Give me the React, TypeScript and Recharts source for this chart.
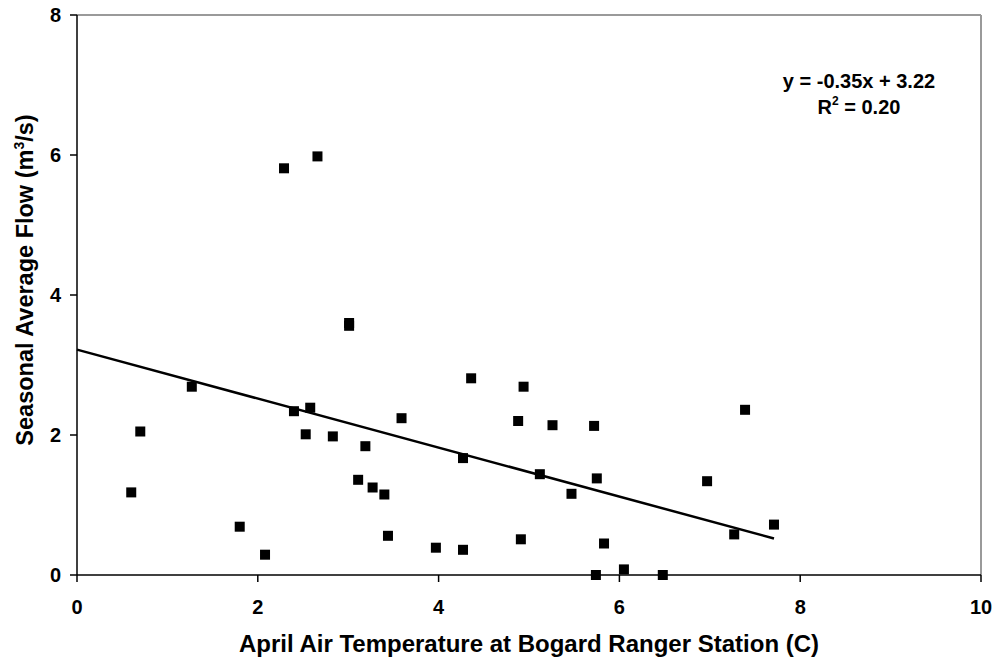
import React from "react";
import { ReferenceLine, Scatter, ScatterChart, XAxis, YAxis } from "recharts";

// April air temperature (C) and seasonal average flow (m3/s), one entry per year
const aprilTemp = [
  0.6, 0.7, 1.27, 1.8, 2.08, 2.29, 2.4, 2.53, 2.58, 2.66, 2.83, 3.01, 3.01, 3.11, 3.19, 3.27,
  3.4, 3.44, 3.59, 3.97, 4.27, 4.27, 4.36, 4.88, 4.91, 4.94, 5.12, 5.26, 5.47, 5.72, 5.74,
  5.75, 5.83, 6.05, 6.48, 6.97, 7.27, 7.39, 7.71,
];
const seasonalFlow = [
  1.18, 2.05, 2.69, 0.69, 0.29, 5.81, 2.34, 2.01, 2.39, 5.98, 1.98, 3.6, 3.56, 1.36, 1.84, 1.25,
  1.15, 0.56, 2.24, 0.39, 0.36, 1.67, 2.81, 2.2, 0.51, 2.69, 1.44, 2.14, 1.16, 2.13, 0.0, 1.38,
  0.45, 0.08, 0.0, 1.34, 0.58, 2.36, 0.72,
];
const xTicks = [0, 2, 4, 6, 8, 10];
const yTicks = [0, 2, 4, 6, 8];
const trendSlope = -0.35;
const trendIntercept = 3.22;
const rSquared = "0.20";

const points = aprilTemp.map((x, i) => ({ x, y: seasonalFlow[i] }));
const trendEnds = [0, Math.max(...aprilTemp)];
const trend = trendEnds.map((x) => ({ x, y: trendSlope * x + trendIntercept }));

const font = "'Liberation Sans', Arial, sans-serif";

const XTick = (props: any) => {
  const { x, y, payload } = props;
  return (
    <text x={x} y={y} dy="0.71em" textAnchor="middle" fontFamily={font} fontWeight="bold" fontSize={20} fill="#000">
      {payload.value}
    </text>
  );
};

const YTick = (props: any) => {
  const { x, y, payload } = props;
  return (
    <text x={x} y={y} dy="0.355em" textAnchor="end" fontFamily={font} fontWeight="bold" fontSize={20} fill="#000">
      {payload.value}
    </text>
  );
};

const Square = (props: any) => {
  const { cx, cy } = props;
  if (cx == null || cy == null) return null;
  return <rect x={cx - 5} y={cy - 5} width={10} height={10} fill="#000" />;
};

const NoDot = () => null;

const YTitle = () => (
  <text
    transform="translate(33, 280) rotate(-90)"
    textAnchor="middle"
    fontFamily={font}
    fontWeight="bold"
    fontSize={23.5}
    fill="#000"
  >
    Seasonal Average Flow (m
    <tspan fontSize={14} dy={-9}>
      3
    </tspan>
    <tspan dy={9}>/s)</tspan>
  </text>
);

export default function App() {
  return (
    <div style={{ position: "absolute", left: 0, top: 0, width: 995, height: 661, background: "#fff" }}>
      <ScatterChart width={995} height={661} margin={{ top: 15, right: 14, bottom: 0, left: 0 }}>
        <XAxis
          type="number"
          dataKey="x"
          domain={[0, 10]}
          ticks={xTicks}
          tick={XTick}
          tickSize={7}
          tickMargin={18}
          stroke="#000"
          strokeWidth={1.5}
          height={86}
          label={{
            value: "April Air Temperature at Bogard Ranger Station (C)",
            position: "insideBottom",
            offset: 9,
            style: { fontFamily: font, fontWeight: "bold", fontSize: 24, fill: "#000" },
          }}
        />
        <YAxis
          type="number"
          dataKey="y"
          domain={[0, 8]}
          ticks={yTicks}
          tick={YTick}
          tickSize={7}
          tickMargin={9}
          stroke="#000"
          strokeWidth={1.5}
          width={77}
        />
        <ReferenceLine y={8} stroke="#9a9a9a" strokeWidth={2} />
        <ReferenceLine x={10} stroke="#9a9a9a" strokeWidth={2} />
        <Scatter
          data={trend}
          line={{ stroke: "#000", strokeWidth: 2.5 }}
          shape={NoDot}
          isAnimationActive={false}
        />
        <Scatter data={points} shape={Square} fill="#000" isAnimationActive={false} />
        <YTitle />
        <text textAnchor="middle" fontFamily={font} fontWeight="bold" fontSize={20} fill="#000">
          <tspan x={859} y={88}>
            y = {trendSlope.toFixed(2)}x + {trendIntercept.toFixed(2)}
          </tspan>
          <tspan x={859} y={114}>
            R
            <tspan fontSize={12} dy={-9}>
              2
            </tspan>
            <tspan dy={9}> = {rSquared}</tspan>
          </tspan>
        </text>
      </ScatterChart>
    </div>
  );
}
